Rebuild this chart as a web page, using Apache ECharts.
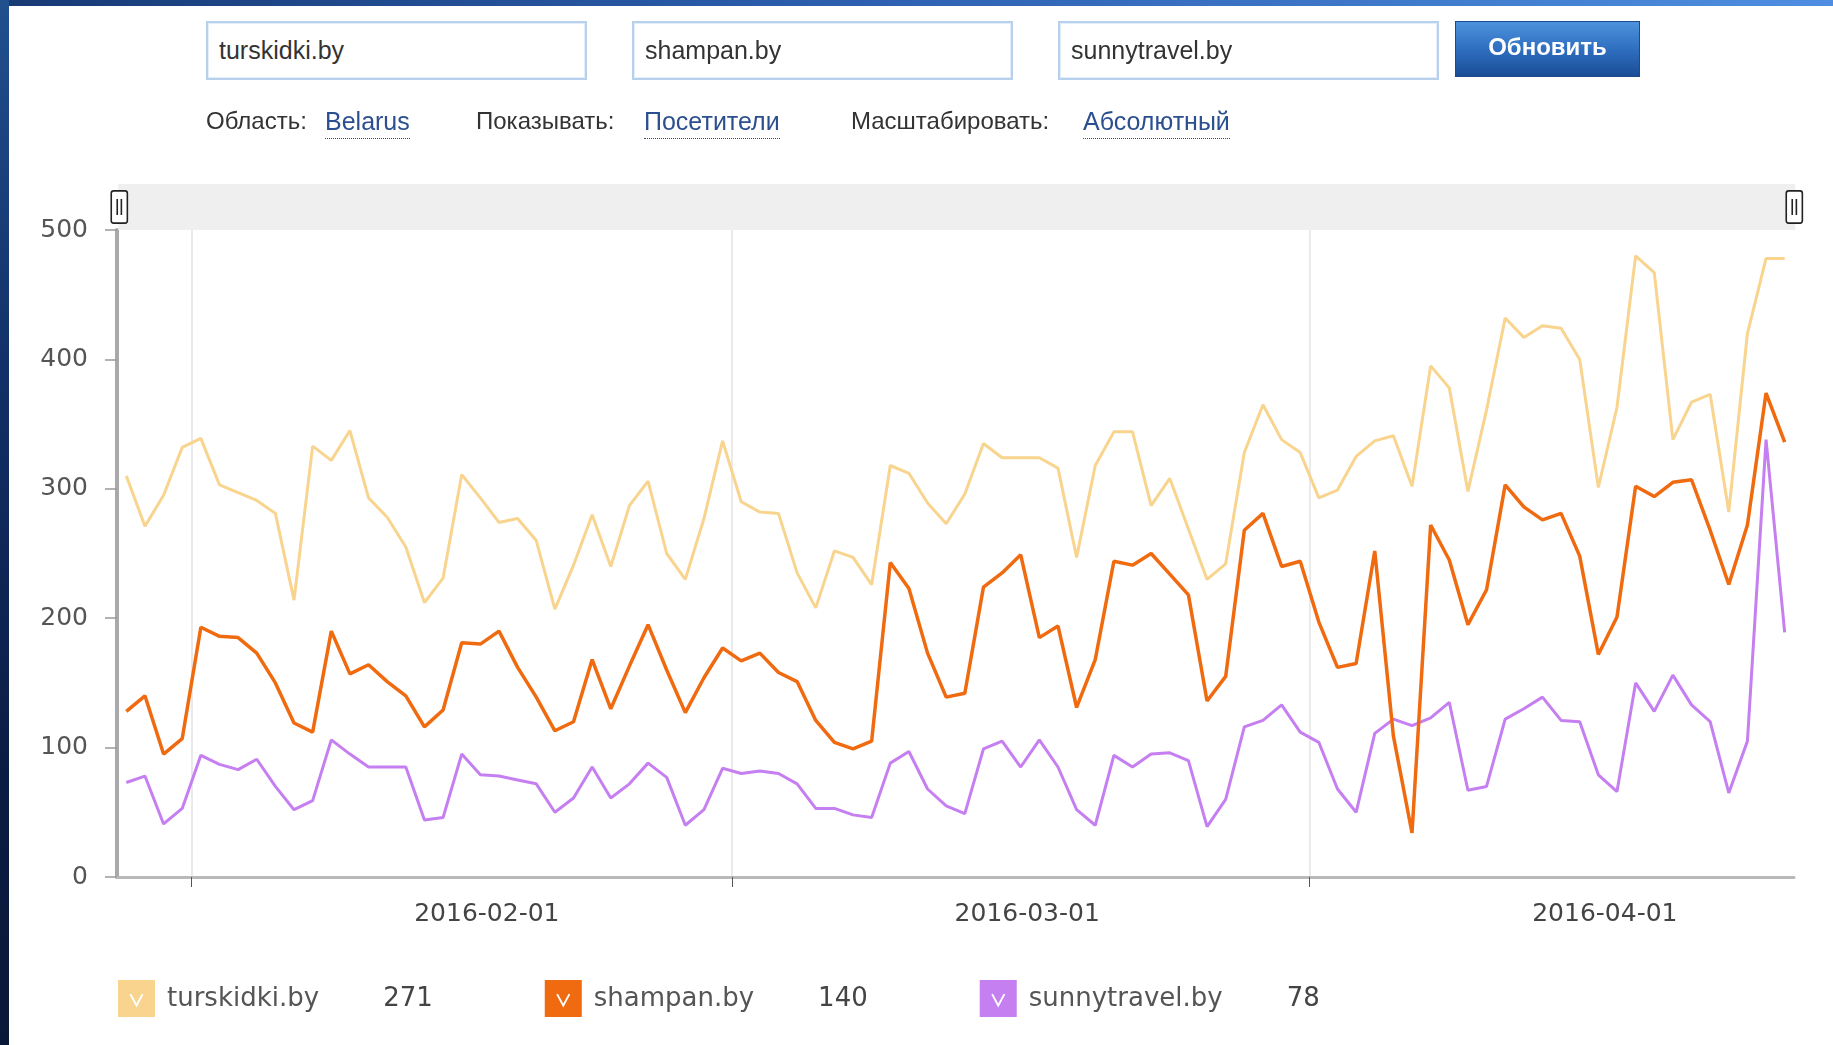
<!DOCTYPE html>
<html>
<head>
<meta charset="utf-8">
<script src="https://cdn.jsdelivr.net/npm/echarts@6/dist/echarts.min.js"></script>
<style>
  html, body { margin: 0; padding: 0; background: #fff; }
  #page { position: relative; width: 1833px; height: 1045px; overflow: hidden; background: #fff; }
  #chart { position: absolute; left: 0; top: 0; width: 1833px; height: 1045px; }
  #topbar { position: absolute; left: 0; top: 0; width: 1833px; height: 6px;
    background: linear-gradient(90deg, #173a74 0%, #2c5eae 45%, #4e8ee0 100%); z-index: 5; }
  #leftbar { position: absolute; left: 0; top: 0; width: 9px; height: 1045px;
    background: linear-gradient(180deg, #21508f 0%, #123068 35%, #0b1c42 75%, #0a1838 100%); z-index: 5; }
  .box { position: absolute; top: 21px; height: 55px; width: 366px; border: 2px solid #b7d0ec;
    box-shadow: inset 0 0 0 1px #e4eefa; background: #fff; z-index: 4;
    font-family: "Liberation Sans", Arial, sans-serif; font-size: 25px; color: #333;
    line-height: 55px; padding-left: 11px; box-sizing: content-box; }
  #btn { position: absolute; left: 1455px; top: 21px; width: 185px; height: 56px; z-index: 4;
    background: linear-gradient(180deg, #4d92dc 0%, #2f6fc0 50%, #1a4d96 100%);
    border: 1px solid #1c4a8c; box-sizing: border-box;
    color: #fff; font-family: "Liberation Sans", Arial, sans-serif; font-weight: bold; font-size: 24px;
    text-align: center; line-height: 50px; }
  .lbl { position: absolute; top: 107px; z-index: 4; font-family: "Liberation Sans", Arial, sans-serif;
    font-size: 24px; color: #333; }
  .lnk { position: absolute; top: 107px; z-index: 4; font-family: "Liberation Sans", Arial, sans-serif;
    font-size: 25px; color: #2b4f8f; border-bottom: 1.5px dotted #2b4f8f; padding-bottom: 2px; }
</style>
</head>
<body>
<div id="page">
  <div id="chart"></div>
  <div id="topbar"></div>
  <div id="leftbar"></div>
  <div class="box" style="left:206px;">turskidki.by</div>
  <div class="box" style="left:632px;">shampan.by</div>
  <div class="box" style="left:1058px;">sunnytravel.by</div>
  <div id="btn">Обновить</div>
  <div class="lbl" style="left:206px;">Область:</div>
  <div class="lnk" style="left:325px;">Belarus</div>
  <div class="lbl" style="left:476px;">Показывать:</div>
  <div class="lnk" style="left:644px;">Посетители</div>
  <div class="lbl" style="left:851px;">Масштабировать:</div>
  <div class="lnk" style="left:1083px;">Абсолютный</div>
</div>
<script>
// ---- data (daily visitors, 2016-01-28 .. 2016-04-26) ----
const seriesNames = ['turskidki.by', 'shampan.by', 'sunnytravel.by'];
const seriesColors = ['#f8d48e', '#f06a10', '#c57ff0'];
const startDate = '2016-01-28';

const turskidki = [310, 271, 295, 332, 339, 303, 297, 291, 281, 214,
  333, 322, 345, 293, 278, 255, 212, 231, 311, 293,
  274, 277, 260, 207, 241, 280, 240, 287, 306, 250,
  230, 277, 337, 290, 282, 281, 235, 208, 252, 247,
  226, 318, 312, 289, 273, 296, 335, 324, 324, 324,
  316, 247, 318, 344, 344, 287, 308, 269, 230, 242,
  328, 365, 338, 328, 293, 299, 325, 337, 341, 302,
  395, 378, 298, 361, 432, 417, 426, 424, 400, 301,
  363, 480, 467, 338, 367, 373, 282, 420, 478, 478];

const shampan = [128, 140, 95, 107, 193, 186, 185, 173, 150, 119,
  112, 190, 157, 164, 151, 140, 116, 129, 181, 180,
  190, 162, 139, 113, 120, 168, 130, 163, 195, 160,
  127, 154, 177, 167, 173, 158, 151, 121, 104, 99,
  105, 243, 223, 173, 139, 142, 224, 235, 249, 185,
  194, 131, 168, 244, 241, 250, 234, 218, 136, 155,
  268, 281, 240, 244, 197, 162, 165, 252, 109, 34,
  272, 245, 195, 222, 303, 286, 276, 281, 248, 172,
  201, 302, 294, 305, 307, 268, 226, 272, 374, 336];

const sunnytravel = [73, 78, 41, 53, 94, 87, 83, 91, 70, 52,
  59, 106, 95, 85, 85, 85, 44, 46, 95, 79,
  78, 75, 72, 50, 61, 85, 61, 72, 88, 77,
  40, 52, 84, 80, 82, 80, 72, 53, 53, 48,
  46, 88, 97, 68, 55, 49, 99, 105, 85, 106,
  85, 52, 40, 94, 85, 95, 96, 90, 39, 60,
  116, 121, 133, 112, 104, 68, 50, 111, 122, 117,
  123, 135, 67, 70, 122, 130, 139, 121, 120, 79,
  66, 150, 128, 156, 133, 120, 65, 105, 338, 189];

const yTicks = [0, 100, 200, 300, 400, 500];
const legendIndex = 1; // legend shows values of the highlighted day

// categories (one per day)
const categories = [];
(function () {
  const d0 = new Date(startDate + 'T00:00:00Z').getTime();
  for (let i = 0; i < turskidki.length; i++) {
    categories.push(new Date(d0 + i * 86400000).toISOString().slice(0, 10));
  }
})();
// month boundaries (day-slot index where a month starts)
const monthStarts = categories.map((c, i) => (c.slice(8) === '01' ? i : -1)).filter(i => i >= 0);

const seriesData = [turskidki, shampan, sunnytravel];
const legendValues = {};
seriesNames.forEach((n, k) => { legendValues[n] = seriesData[k][legendIndex]; });

const FONT = '"DejaVu Sans", Verdana, sans-serif';
// square with a "V" check cut out (counter-wound subpath = hole)
const checkIcon = 'path://M0,0 L37,0 L37,37 L0,37 Z M11.5,14.5 L18.5,27.5 L25.5,14.5 L23.8,13.7 L18.5,23.6 L13.2,13.7 Z';

const chart = echarts.init(document.getElementById('chart'), null, { renderer: 'canvas' });
chart.setOption({
  animation: false,
  backgroundColor: 'transparent',
  textStyle: { fontFamily: FONT },
  grid: { left: 117, right: 39, top: 230, bottom: 168, containLabel: false },
  xAxis: [{
    type: 'category',
    data: categories,
    boundaryGap: true,
    axisLine: { show: true, lineStyle: { color: '#b9b9b9', width: 3 } },
    axisTick: { show: false },
    splitLine: { show: false },
    axisLabel: {
      interval: (i, v) => v.slice(8) === '16',
      formatter: v => v.slice(0, 8) + '01',
      color: '#444', fontSize: 25, fontFamily: FONT, margin: 25,
      padding: [0, 0, 0, 13]
    }
  }, {
    // day-slot scale used only for the month-boundary ticks and grid lines
    type: 'value',
    position: 'bottom',
    min: 0, max: categories.length,
    axisLine: { show: false },
    axisLabel: { show: false },
    axisTick: { show: true, length: 10, customValues: monthStarts, lineStyle: { color: '#555', width: 1 } },
    splitLine: { show: true, lineStyle: { color: '#e3e3e3', width: 1.5 } }
  }],
  yAxis: {
    type: 'value',
    min: yTicks[0], max: yTicks[yTicks.length - 1], interval: 100,
    axisLine: { show: true, lineStyle: { color: '#a9a9a9', width: 4 } },
    axisTick: { show: true, length: 12, lineStyle: { color: '#999', width: 1.5 } },
    splitLine: { show: false },
    axisLabel: { color: '#555', fontSize: 25, fontFamily: FONT, margin: 29 }
  },
  dataZoom: [{
    type: 'slider', xAxisIndex: 0, start: 0, end: 100, filterMode: 'none',
    left: 117, right: 39, top: 184, height: 46,
    backgroundColor: '#efefef', borderColor: 'rgba(0,0,0,0)',
    fillerColor: 'rgba(0,0,0,0)',
    showDataShadow: false, showDetail: false, brushSelect: false,
    moveHandleSize: 0, moveHandleStyle: { opacity: 0 },
    zoomLock: true,
    handleIcon: 'path://M2,0 L12,0 Q14,0 14,2 L14,26 Q14,28 12,28 L2,28 Q0,28 0,26 L0,2 Q0,0 2,0 Z M5.2,7 L5.2,21 M8.8,7 L8.8,21',
    handleSize: '70%',
    handleStyle: { color: '#fff', borderColor: '#222', borderWidth: 1.6 },
    emphasis: { handleStyle: { borderColor: '#222', color: '#fff' } },
    dataBackground: { lineStyle: { opacity: 0 }, areaStyle: { opacity: 0 } },
    selectedDataBackground: { lineStyle: { opacity: 0 }, areaStyle: { opacity: 0 } }
  }],
  legend: {
    left: 118, top: 980, padding: 0,
    itemWidth: 37, itemHeight: 37, itemGap: 112,
    selectedMode: false,
    itemStyle: { borderWidth: 0 },
    data: seriesNames.map((n, k) => ({ name: n, icon: checkIcon, itemStyle: { color: seriesColors[k], borderWidth: 0 } })),
    formatter: name => '{n|' + name + '}{v|' + legendValues[name] + '}',
    textStyle: {
      rich: {
        n: { fontSize: 26, color: '#555', fontFamily: FONT, padding: [2, 0, 0, 7] },
        v: { fontSize: 26, color: '#444', fontFamily: FONT, padding: [2, 0, 0, 64] }
      }
    }
  },
  series: seriesNames.map((n, k) => ({
    name: n,
    type: 'line',
    xAxisIndex: 0,
    data: seriesData[k],
    showSymbol: false,
    symbol: 'none',
    z: k === 1 ? 4 : (k === 2 ? 3 : 2),
    color: seriesColors[k],
    lineStyle: { color: seriesColors[k], width: k === 1 ? 3.5 : 3 },
    emphasis: { disabled: true }
  }))
});
</script>
</body>
</html>
